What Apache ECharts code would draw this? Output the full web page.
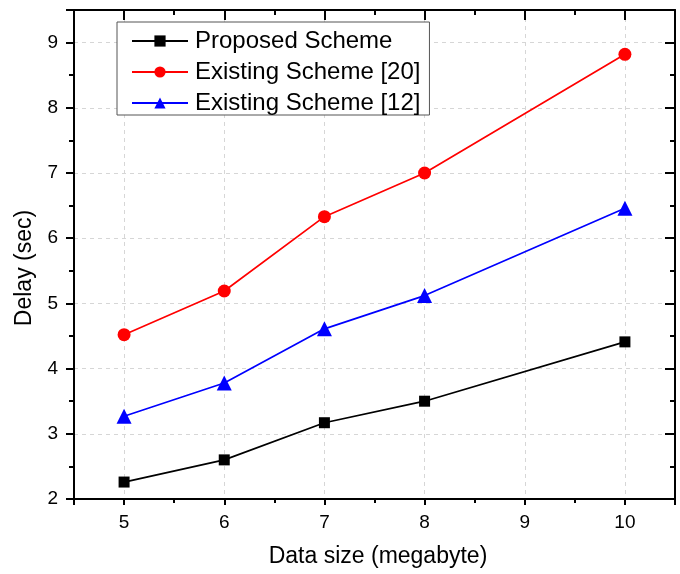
<!DOCTYPE html>
<html>
<head>
<meta charset="utf-8">
<script src="https://cdn.jsdelivr.net/npm/echarts@6/dist/echarts.min.js"></script>
<style>html,body{margin:0;padding:0;background:#fff;}#c{width:680px;height:574px;}</style>
</head>
<body>
<div id="c"></div>
<script>
var xValues = [5, 6, 7, 8, 10];
var proposed = [2.26, 2.60, 3.17, 3.50, 4.41];
var existing20 = [4.52, 5.19, 6.33, 7.00, 8.82];
var existing12 = [3.27, 3.78, 4.61, 5.12, 6.46];
var seriesNames = ['Proposed Scheme', 'Existing Scheme [20]', 'Existing Scheme [12]'];

function pairs(ys) { return xValues.map(function (x, i) { return [x, ys[i]]; }); }
var FONT = 'Liberation Sans, Arial, sans-serif';
function intLabel(v) { return Math.abs(v - Math.round(v)) < 1e-9 ? String(Math.round(v)) : ''; }

var chart = echarts.init(document.getElementById('c'), null, {renderer: 'canvas'});
var axisLine = {show: true, onZero: false, lineStyle: {color: '#000', width: 2}};
chart.setOption({
  animation: false,
  backgroundColor: '#fff',
  grid: {left: 74, right: 5, top: 10, bottom: 75, containLabel: false},
  legend: {
    left: 117, top: 22, orient: 'vertical',
    padding: [7, 9, 0, 14],
    itemGap: 7,
    itemWidth: 56, itemHeight: 14,
    borderColor: '#555', borderWidth: 1,
    backgroundColor: '#fff',
    textStyle: {fontFamily: FONT, fontSize: 24, color: '#000', padding: [0, 0, 0, 2]},
    data: seriesNames
  },
  xAxis: [{
    type: 'value', min: 4.5, max: 10.5, splitNumber: 6, minInterval: 1, maxInterval: 1,
    position: 'bottom',
    name: 'Data size (megabyte)', nameLocation: 'middle', nameGap: 46,
    nameTextStyle: {fontFamily: FONT, fontSize: 23, color: '#000', padding: [0, 0, 0, 7]},
    axisLine: axisLine,
    axisTick: {show: true, inside: false, length: 6, lineStyle: {color: '#000', width: 2}},
    minorTick: {show: true, splitNumber: 2, length: 4, lineStyle: {color: '#000', width: 2}},
    axisLabel: {formatter: intLabel, fontFamily: FONT, fontSize: 19, color: '#000', margin: 14},
    splitLine: {show: true, lineStyle: {color: '#d6d6d6', type: [4, 4], width: 1}}
  }, {
    type: 'value', min: 4.5, max: 10.5, splitNumber: 6, minInterval: 1, maxInterval: 1,
    position: 'top',
    axisLine: axisLine,
    axisTick: {show: true, inside: true, length: 10, lineStyle: {color: '#000', width: 2}},
    minorTick: {show: true, splitNumber: 2, length: 5, lineStyle: {color: '#000', width: 2}},
    axisLabel: {show: false},
    splitLine: {show: false}
  }],
  yAxis: [{
    type: 'value', min: 2, max: 9.5, splitNumber: 8, minInterval: 1, maxInterval: 1,
    position: 'left',
    name: 'Delay (sec)', nameLocation: 'middle', nameGap: 37,
    nameTextStyle: {fontFamily: FONT, fontSize: 23, color: '#000', padding: [0, 27, 0, 0]},
    axisLine: axisLine,
    axisTick: {show: true, inside: false, length: 8, lineStyle: {color: '#000', width: 2}},
    minorTick: {show: true, splitNumber: 2, length: 5, lineStyle: {color: '#000', width: 2}},
    axisLabel: {formatter: intLabel, fontFamily: FONT, fontSize: 19, color: '#000', margin: 16},
    splitLine: {show: true, lineStyle: {color: '#d6d6d6', type: [4, 4], width: 1}}
  }, {
    type: 'value', min: 2, max: 9.5, splitNumber: 8, minInterval: 1, maxInterval: 1,
    position: 'right',
    axisLine: axisLine,
    axisTick: {show: true, inside: true, length: 10, lineStyle: {color: '#000', width: 2}},
    minorTick: {show: true, splitNumber: 2, length: 5, lineStyle: {color: '#000', width: 2}},
    axisLabel: {show: false},
    splitLine: {show: false}
  }],
  series: [{
    name: seriesNames[0], type: 'line', data: pairs(proposed),
    symbol: 'rect', symbolSize: 11,
    itemStyle: {color: '#000'}, lineStyle: {color: '#000', width: 1.7}
  }, {
    name: seriesNames[1], type: 'line', data: pairs(existing20),
    symbol: 'circle', symbolSize: 13,
    itemStyle: {color: '#ff0000'}, lineStyle: {color: '#ff0000', width: 1.7}
  }, {
    name: seriesNames[2], type: 'line', data: pairs(existing12),
    symbol: 'triangle', symbolSize: 15,
    itemStyle: {color: '#0000ff'}, lineStyle: {color: '#0000ff', width: 1.7}
  }]
});
</script>
</body>
</html>
